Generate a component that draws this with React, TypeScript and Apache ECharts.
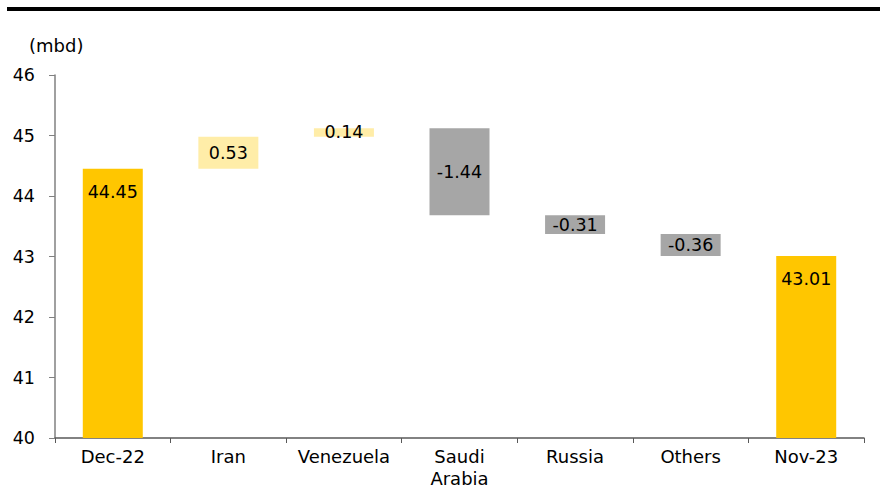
import React, { useEffect, useRef } from "react";
import * as echarts from "echarts";

const categories = ["Dec-22", "Iran", "Venezuela", "Saudi\nArabia", "Russia", "Others", "Nov-23"];
const changes = [44.45, 0.53, 0.14, -1.44, -0.31, -0.36, 43.01];
const isTotal = [true, false, false, false, false, false, true];
const yTicks = [40, 41, 42, 43, 44, 45, 46];

const FONT = "DejaVu Sans";

export default function App() {
  const ref = useRef<HTMLDivElement>(null);
  useEffect(() => {
    document.body.style.margin = "0";
    if (!ref.current) return;
    const chart = echarts.init(ref.current, null, { renderer: "svg" });

    // Build waterfall pieces from the data
    const base: (number | string)[] = [];
    const totals: (number | string)[] = [];
    const ups: (number | string)[] = [];
    const downs: (number | string)[] = [];
    let running = 0;
    changes.forEach((v, i) => {
      if (isTotal[i]) {
        running = v;
        base.push(0);
        totals.push(v);
        ups.push("-");
        downs.push("-");
      } else if (v >= 0) {
        base.push(running);
        ups.push(v);
        totals.push("-");
        downs.push("-");
        running += v;
      } else {
        running += v;
        base.push(running);
        downs.push(-v);
        totals.push("-");
        ups.push("-");
      }
    });

    const labelStyle = {
      show: true,
      color: "#000",
      fontFamily: FONT,
      fontSize: 17.5,
      formatter: (p: any) => changes[p.dataIndex].toFixed(2),
    };

    chart.setOption({
      animation: false,
      backgroundColor: "#fff",
      textStyle: { fontFamily: FONT },
      title: {
        text: "(mbd)",
        left: 24,
        top: 31,
        textStyle: { fontFamily: FONT, fontSize: 18, fontWeight: "normal", color: "#000" },
      },
      graphic: [
        { type: "rect", shape: { x: 7, y: 7, width: 873, height: 4 }, style: { fill: "#000" } },
      ],
      grid: { left: 55, right: 16, top: 75, bottom: 56, containLabel: false, outerBoundsMode: "none" },
      xAxis: {
        type: "category",
        data: categories,
        axisLine: { lineStyle: { color: "#595959", width: 1.5 } },
        axisTick: { show: true, length: 5, lineStyle: { color: "#595959" } },
        axisLabel: { color: "#000", fontFamily: FONT, fontSize: 18, margin: 7, lineHeight: 22, interval: 0 },
      },
      yAxis: {
        type: "value",
        min: yTicks[0],
        max: yTicks[yTicks.length - 1],
        interval: 1,
        splitLine: { show: false },
        axisLine: { show: true, lineStyle: { color: "#808080", width: 1.5 } },
        axisTick: { show: true, length: 6, lineStyle: { color: "#808080" } },
        axisLabel: { color: "#000", fontFamily: FONT, fontSize: 17.5, margin: 20 },
      },
      series: [
        {
          type: "bar",
          stack: "wf",
          data: base,
          barWidth: 60,
          itemStyle: { color: "transparent" },
          silent: true,
        },
        {
          type: "bar",
          stack: "wf",
          data: totals,
          barWidth: 60,
          itemStyle: { color: "#FFC600" },
          label: { ...labelStyle, position: "insideTop", distance: 14 },
        },
        {
          type: "bar",
          stack: "wf",
          data: ups,
          barWidth: 60,
          itemStyle: { color: "#FFEDA8" },
          label: { ...labelStyle, position: "inside" },
        },
        {
          type: "bar",
          stack: "wf",
          data: downs,
          barWidth: 60,
          itemStyle: { color: "#A6A6A6" },
          label: { ...labelStyle, position: "inside" },
        },
      ],
    });
    return () => chart.dispose();
  }, []);
  return <div ref={ref} style={{ width: 880, height: 494 }} />;
}
